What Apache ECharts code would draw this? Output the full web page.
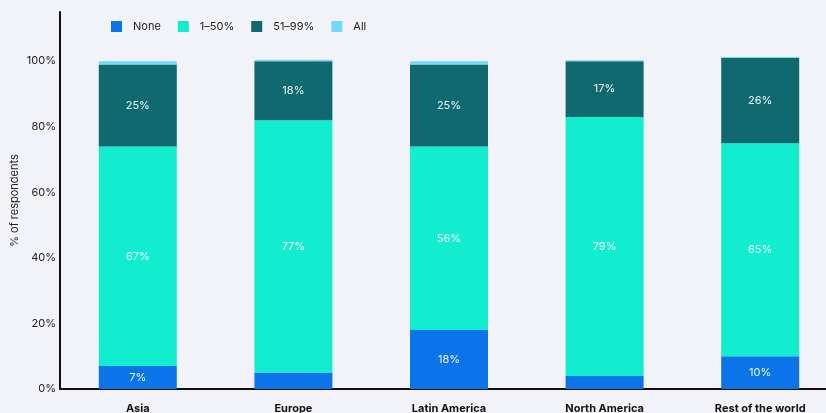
<!DOCTYPE html>
<html>
<head>
<meta charset="utf-8">
<script src="https://cdn.jsdelivr.net/npm/echarts@6/dist/echarts.min.js"></script>
<style>
  html, body { margin: 0; padding: 0; background: #f2f3f8; }
  #chart { width: 826px; height: 413px; }
</style>
</head>
<body>
<div id="chart"></div>
<script>
// Regions on the category axis
const regions = ['Asia', 'Europe', 'Latin America', 'North America', 'Rest of the world'];

// Share of respondents (%) in each band
const noneShare = [7, 5, 18, 4, 10];
const lowShare = [67, 77, 56, 79, 65];
const highShare = [25, 18, 25, 17, 26];
const allShare = [1, 0.4, 1, 0.3, 0.3];

const seriesNames = ['None', '1–50%', '51–99%', 'All'];
const seriesColors = ['#0b74e9', '#13edcf', '#0f696e', '#74d7fc'];
const yTicks = [0, 20, 40, 60, 80, 100];

const font = 'Inter, "Noto Sans", sans-serif';

function barSeries(name, data, color, withLabel) {
  return {
    name: name,
    type: 'bar',
    stack: 'total',
    data: data,
    barWidth: 78,
    itemStyle: { color: color },
    label: {
      show: withLabel,
      position: 'inside',
      color: '#eef8f7',
      fontFamily: font,
      fontSize: 11,
      // only bands tall enough carry a value label
      formatter: p => (p.value >= 7 ? p.value + '%' : '')
    }
  };
}

const chart = echarts.init(document.getElementById('chart'), null, { renderer: 'canvas' });
chart.setOption({
  backgroundColor: '#f2f3f8',
  animation: false,
  textStyle: { fontFamily: font },
  legend: {
    left: 106,
    top: 16,
    itemWidth: 11,
    itemHeight: 11,
    itemGap: 17,
    icon: 'rect',
    textStyle: { fontFamily: font, fontSize: 11, color: '#222', padding: [0, 0, 0, 6] },
    data: seriesNames
  },
  // plot area runs slightly past the right edge of the canvas
  grid: { left: 60, right: -12, top: 12, bottom: 24, containLabel: false, outerBoundsMode: 'none' },
  xAxis: {
    type: 'category',
    data: regions,
    axisLine: { lineStyle: { color: '#111', width: 2 } },
    axisTick: { show: false },
    axisLabel: { fontFamily: font, fontSize: 11, fontWeight: 'bold', color: '#111', margin: 14 }
  },
  yAxis: {
    type: 'value',
    min: 0,
    max: 115,
    interval: 20,
    name: '% of respondents',
    nameLocation: 'middle',
    nameRotate: 90,
    nameGap: 40,
    nameMoveOverlap: false,
    nameTextStyle: { fontFamily: font, fontSize: 11, color: '#222' },
    axisLine: { show: true, lineStyle: { color: '#111', width: 2 } },
    axisTick: { show: false },
    splitLine: { show: false },
    axisLabel: {
      fontFamily: font,
      fontSize: 11,
      color: '#222',
      margin: 4,
      formatter: v => (yTicks.indexOf(v) >= 0 ? v + '%' : '')
    }
  },
  series: [
    barSeries(seriesNames[0], noneShare, seriesColors[0], true),
    barSeries(seriesNames[1], lowShare, seriesColors[1], true),
    barSeries(seriesNames[2], highShare, seriesColors[2], true),
    barSeries(seriesNames[3], allShare, seriesColors[3], false)
  ]
});
</script>
</body>
</html>
